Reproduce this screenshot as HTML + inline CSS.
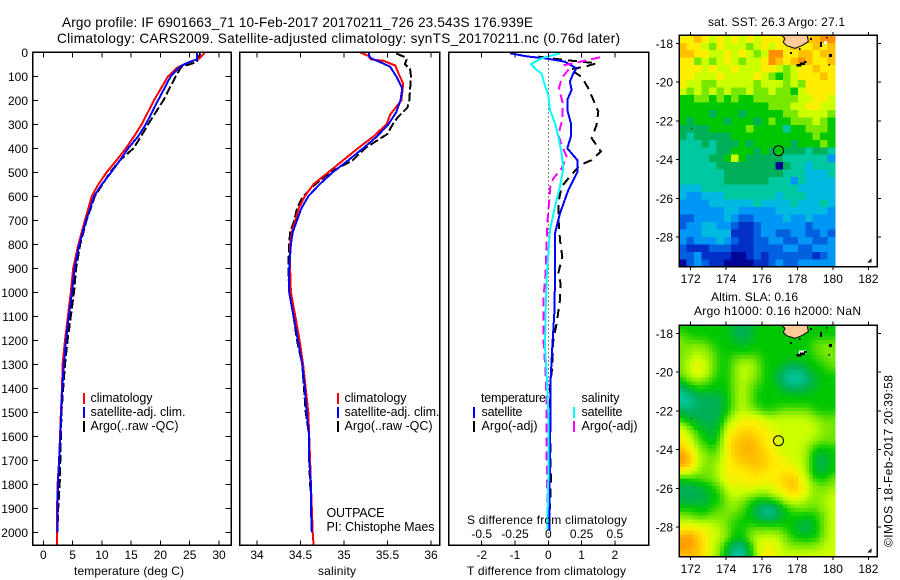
<!DOCTYPE html>
<html lang="en">
<head>
<meta charset="utf-8">
<title>Argo profile</title>
<style>
html,body{margin:0;padding:0;background:#fff;}
svg{display:block;}
text{font-family:"Liberation Sans",sans-serif;font-size:12px;fill:#000;}
.t{font-size:13.6px;}
.lg{font-size:12.5px;}
</style>
</head>
<body>
<svg id="chart" xmlns="http://www.w3.org/2000/svg" width="900" height="580" viewBox="0 0 900 580">
<rect x="0" y="0" width="900" height="580" fill="#fff"/>
<text class="t" x="62" y="27" textLength="471">Argo profile: IF 6901663_71 10-Feb-2017 20170211_726 23.543S 176.939E</text>
<text class="t" x="57" y="43" textLength="563">Climatology: CARS2009. Satellite-adjusted climatology: synTS_20170211.nc (0.76d later)</text>
<g id="plots"></g>
<g id="maps"></g>

<text x="74" y="575" textLength="110">temperature (deg C)</text>
<text x="318" y="575" textLength="38">salinity</text>
<text x="467" y="575" textLength="159">T difference from climatology</text>
<text x="467" y="524" textLength="160">S difference from climatology</text>

<g>
<rect x="83" y="393" width="2" height="11" fill="#f00"/>
<rect x="83" y="407" width="2" height="11" fill="#00f"/>
<rect x="83" y="421" width="2" height="11" fill="#000"/>
<text class="lg" x="90.5" y="402" textLength="62">climatology</text>
<text class="lg" x="90.5" y="416" textLength="95">satellite-adj. clim.</text>
<text class="lg" x="90.5" y="430" textLength="88">Argo(..raw -QC)</text>
</g>
<g>
<rect x="337" y="393" width="2" height="11" fill="#f00"/>
<rect x="337" y="407" width="2" height="11" fill="#00f"/>
<rect x="337" y="421" width="2" height="11" fill="#000"/>
<text class="lg" x="344.5" y="402" textLength="62">climatology</text>
<text class="lg" x="344.5" y="416" textLength="95">satellite-adj. clim.</text>
<text class="lg" x="344.5" y="430" textLength="88">Argo(..raw -QC)</text>
</g>
<text class="lg" x="326.5" y="517" textLength="58">OUTPACE</text>
<text class="lg" x="326.5" y="531" textLength="108">PI: Chistophe Maes</text>
<g>
<text class="lg" x="481" y="402" textLength="65">temperature</text>
<rect x="473" y="407" width="2" height="11" fill="#00f"/>
<rect x="473" y="421" width="2" height="11" fill="#000"/>
<text class="lg" x="481.5" y="416" textLength="41">satellite</text>
<text class="lg" x="481.5" y="430" textLength="56">Argo(-adj)</text>
<text class="lg" x="581.5" y="402" textLength="38">salinity</text>
<rect x="573" y="407" width="2" height="11" fill="#00ffff"/>
<rect x="573" y="421" width="2" height="11" fill="#ff00ff"/>
<text class="lg" x="581.5" y="416" textLength="41">satellite</text>
<text class="lg" x="581.5" y="430" textLength="56">Argo(-adj)</text>
</g>
<text x="708" y="26" textLength="137">sat. SST: 26.3 Argo: 27.1</text>
<text x="711" y="301" textLength="87">Altim. SLA: 0.16</text>
<text x="694" y="315" textLength="167">Argo h1000: 0.16 h2000: NaN</text>
<text transform="translate(892.5,547) rotate(-90)" x="0" y="0" textLength="172">©IMOS 18-Feb-2017 20:39:58</text>

<script>
// ---- Temperature profile data (deg C vs dbar)
var climTempPressure = [0,25,45,66,100,200,300,350,400,450,500,550,600,650,700,800,900,1000,1100,1200,1300,1400,1500,1600,1700,1800,1900,2000,2050];
var climTempValues = [27.6,26.7,24.5,22.8,21.3,18.9,16.8,15.5,14.1,12.5,10.8,9.4,8.26,7.7,7.1,6.0,5.1,4.7,4.2,3.7,3.3,3.2,3.0,2.85,2.7,2.45,2.35,2.35,2.3];
var satTempPressure = [0,30,40,60,100,200,300,350,400,450,500,550,600,650,700,800,900,1000,1100,1200,1300,1400,1500,1600,1700,1800,1900,2000];
var satTempValues = [26.2,26.2,25,23.3,21.75,19.6,17.5,16.2,14.5,13.1,11.6,10,8.65,8,7.3,6.15,5.35,4.9,4.35,3.9,3.5,3.25,3.05,2.9,2.7,2.5,2.4,2.4];
var argoTempPressure = [4,40,50,60,100,200,300,350,400,450,500,550,600,650,700,800,900,1000,1100,1200,1300,1400,1500,1600,1700,1800,1900,2000];
var argoTempValues = [26.8,26.2,25,23.6,22.6,20.5,17.9,16.7,15.4,13.1,11.4,10.1,8.8,8.1,7.4,6.3,5.6,5.25,4.7,4.15,3.7,3.4,3.1,3.0,2.9,2.8,2.55,2.4];

// ---- Salinity profile data
var climSalPressure = [0,15,30,35,55,100,130,200,260,300,350,400,450,500,550,600,650,700,750,800,900,1000,1100,1200,1300,1400,1500,1600,1700,1800,1900,2000,2050];
var climSalValues = [35.18,35.28,35.31,35.45,35.59,35.64,35.68,35.66,35.53,35.49,35.34,35.16,34.99,34.82,34.65,34.55,34.48,34.44,34.4,34.38,34.38,34.39,34.44,34.49,34.53,34.56,34.59,34.6,34.61,34.62,34.63,34.64,34.65];
var satSalPressure = [0,15,25,40,60,100,150,200,250,300,350,400,450,500,550,600,650,700,750,800,900,1000,1100,1200,1300,1400,1500,1600,1700,1800,1900,2000];
var satSalValues = [35.29,35.29,35.31,35.41,35.53,35.6,35.67,35.65,35.6,35.51,35.38,35.22,35.05,34.87,34.72,34.59,34.51,34.46,34.41,34.39,34.37,34.37,34.42,34.47,34.52,34.55,34.57,34.6,34.6,34.62,34.62,34.63];
var argoSalPressure = [5,20,30,50,70,100,200,230,270,300,340,400,450,500,550,600,650,700,750,800,900,1000,1100,1200,1300,1400,1500,1600,1700,1800,1900,2000];
var argoSalValues = [35.6,35.7,35.72,35.7,35.76,35.77,35.75,35.73,35.62,35.56,35.5,35.24,35.1,34.84,34.67,34.53,34.46,34.43,34.38,34.37,34.36,34.37,34.42,34.46,34.52,34.54,34.56,34.6,34.6,34.61,34.63,34.64];

// ---- Difference data
var satDiffTPressure = [4,18,25,39,67,88,122,157,198,240,296,351,400,449,497,574,671,754,949,1088,1227,1365,1504,1643,1990];
var satDiffTValues = [-1.15,-0.6,-0.1,0.5,0.85,0.75,0.65,0.7,0.57,0.57,0.68,0.68,0.57,0.87,0.88,0.6,0.35,0.2,0.2,0.18,0.12,0.07,0.07,0.05,0.03];
var argoDiffTPressure = [18,32,46,60,71,102,150,198,247,302,358,413,449,470,526,560,630,685,782,852,921,963,1032,1130,1200,1310,1393,1504,1574,1782,1977];
var argoDiffTValues = [-0.3,0.5,1.45,1.1,0.65,1,1.2,1.35,1.5,1.45,1.3,1.58,1.3,0.95,0.6,0.4,0.3,0.3,0.35,0.42,0.3,0.37,0.35,0.25,0.15,0.12,0.05,0.05,0.05,0.08,0.02];
var satDiffSPressure = [4,25,49,74,88,130,178,240,296,351,421,484,560,643,740,838,942,1088,1227,1338,1504,1782,1990];
var satDiffSValues = [0.0875,-0.05,-0.13,-0.0875,-0.05,-0.03,0,0.0125,0.05,0.075,0.1,0.1125,0.0875,0.05,0.0125,0,-0.0125,-0.02,-0.025,-0.0125,0,0,-0.0075];
var argoDiffSPressure = [21,43,53,70,108,150,205,281,344,385,435,484,526,560,630,699,782,921,1032,1185,1365,1504,1657,1921];
var argoDiffSValues = [0.3875,0.2125,0.125,0.155,0.1,0.08,0.105,0.105,0.075,0.1,0.1375,0.1,0.0375,0.015,0.005,-0.005,-0.0125,-0.02,-0.0375,-0.0375,-0.0175,-0.0125,-0.0125,-0.005];

// ---- Tick labels
var pressureTicks = [0,100,200,300,400,500,600,700,800,900,1000,1100,1200,1300,1400,1500,1600,1700,1800,1900,2000];
var tempTicks = [0,5,10,15,20,25,30];
var salTicks = [34,34.5,35,35.5,36];
var diffTTicks = [-2,-1,0,1,2];
var diffSTicks = [-0.5,-0.25,0,0.25,0.5];
var lonTicks = [172,174,176,178,180,182];
var latTicks = [18,20,22,24,26,28];
var argoLon = 176.939;
var argoLat = 23.543;

// ---- Map grids: colour level per cell, rows north to south, columns west to east
var sstGrid = [
[10,10,11,10,9,10,9,10,9,10,9,10,10,10,11,11,11,11,11,12,12],
[11,10,10,9,8,10,9,9,9,8,9,10,9,10,10,11,10,10,11,10,11],
[11,11,10,10,9,9,10,9,10,9,8,9,12,12,10,10,11,11,10,11,11],
[10,10,8,9,8,9,10,9,8,9,9,10,12,11,10,11,12,11,10,10,11],
[10,10,10,9,10,9,9,10,9,9,9,10,10,9,8,9,10,10,11,10,10],
[10,10,9,9,9,10,9,9,9,9,10,9,8,7,8,9,10,10,10,11,10],
[10,9,9,8,8,9,9,9,9,9,8,9,9,9,8,9,8,10,10,10,10],
[9,8,9,8,9,8,9,8,8,9,8,8,9,8,8,7,9,10,10,10,10],
[7,7,8,8,7,8,7,8,7,7,8,8,8,8,8,8,9,9,10,10,9],
[7,7,7,7,7,7,7,7,7,7,7,7,8,8,8,9,9,10,10,9,9],
[7,7,7,7,6,7,7,7,6,7,7,7,7,7,8,8,9,9,9,9,8],
[7,6,7,7,7,7,6,7,7,7,6,7,8,7,7,8,8,8,9,8,7],
[6,6,6,6,7,7,7,7,7,8,7,7,7,7,5,7,7,8,8,8,7],
[6,5,6,6,6,6,6,7,7,7,7,7,7,7,7,7,7,7,8,7,7],
[5,5,5,6,5,6,6,6,7,6,7,7,7,7,7,6,7,7,7,8,7],
[5,5,5,5,5,6,6,7,7,7,6,7,6,7,6,6,6,5,6,6,5],
[5,5,5,5,6,6,7,9,7,6,6,6,6,6,5,5,5,5,5,5,3],
[5,5,5,5,5,6,6,6,6,6,6,6,6,0,6,5,5,4,5,5,5],
[5,5,5,5,5,5,6,6,6,6,6,6,6,6,5,5,5,4,4,4,5],
[5,5,5,5,5,5,6,6,6,6,6,6,5,5,5,3,5,4,4,4,4],
[4,4,4,5,5,5,5,5,5,5,5,5,5,5,5,5,4,4,4,4,4],
[4,3,3,4,4,4,5,5,5,5,5,5,5,4,5,5,5,4,4,4,4],
[3,3,3,3,4,4,4,4,4,4,5,4,4,4,4,5,4,4,4,5,4],
[3,3,3,3,3,3,4,4,3,3,3,3,3,4,4,4,4,4,4,4,3],
[2,2,3,3,3,3,4,3,2,2,3,3,3,3,4,3,3,4,3,3,3],
[2,3,3,4,4,3,3,2,1,1,2,3,3,3,3,3,3,2,3,3,3],
[3,3,3,4,4,4,4,1,1,1,2,3,3,2,2,3,3,2,2,3,2],
[3,2,3,3,3,4,3,2,1,1,2,2,3,3,2,2,3,3,2,2,3],
[2,1,1,1,2,2,2,1,1,1,2,2,2,2,3,3,2,2,3,3,3],
[2,2,3,1,1,1,1,0,0,1,2,1,2,2,2,2,2,2,1,2,3],
[0,2,3,2,1,1,0,0,0,0,1,1,2,3,2,2,3,3,3,3,3]
];
var slaGrid = [
[7,7,7,7,7,7,7,6,6,6,7,7,7,7,7,7,7,7,7,7,7],
[8,7,7,7,7,7,7,6,6,6,7,7,7,7,7,7,7,7,7,7,7],
[8,8,8,8,7,7,7,7,6,7,7,7,7,7,7,7,7,7,8,8,8],
[8,8,9,8,8,7,7,7,7,7,7,7,7,7,7,7,7,7,8,8,8],
[8,9,9,9,8,7,7,8,8,8,8,7,7,7,7,7,7,7,7,8,8],
[8,9,10,9,8,7,7,8,9,9,8,7,7,7,6,6,6,7,7,7,8],
[8,9,10,9,8,7,7,8,9,9,8,7,7,6,5,5,5,6,7,7,7],
[7,8,8,8,7,7,7,8,9,8,8,7,7,6,5,5,5,6,6,7,7],
[5,7,7,7,7,7,7,8,9,8,7,7,7,7,6,6,6,6,7,7,7],
[5,5,6,6,6,6,7,8,9,8,7,7,7,7,7,7,7,7,7,7,7],
[5,5,6,6,6,6,7,8,9,8,7,7,7,7,7,7,7,7,7,7,7],
[6,6,6,6,6,6,7,8,9,8,8,7,7,8,8,8,8,8,7,7,7],
[7,6,6,6,6,6,8,9,10,10,10,9,9,9,9,9,9,9,8,8,8],
[9,7,7,6,6,7,9,10,10,10,10,10,9,9,9,9,9,9,9,8,8],
[10,9,7,7,6,7,10,10,11,11,10,10,10,9,9,9,9,9,9,8,8],
[10,9,8,7,6,8,10,11,11,11,11,10,10,9,9,9,9,9,8,8,8],
[11,10,8,8,7,8,10,11,11,12,11,10,10,9,9,9,9,8,7,7,7],
[12,11,9,8,8,8,10,11,11,11,11,11,10,10,9,9,9,8,6,6,7],
[12,11,9,8,8,9,10,10,11,11,11,11,10,10,10,9,9,8,6,6,7],
[10,10,8,8,8,9,10,10,10,10,11,10,10,10,10,10,9,8,6,6,7],
[7,7,8,8,8,9,10,10,10,10,10,10,10,10,11,11,10,8,7,7,8],
[6,6,6,7,7,8,9,10,9,10,10,9,10,10,11,11,10,9,8,8,8],
[6,6,6,6,7,7,9,9,9,9,8,8,9,9,10,11,10,9,8,8,9],
[6,6,6,6,7,7,8,9,8,7,7,7,7,8,9,9,9,8,8,9,9],
[7,7,7,7,7,8,8,8,8,7,6,5,5,6,7,8,8,8,8,8,9],
[8,8,7,7,8,8,8,8,7,7,6,5,5,6,7,7,7,7,7,8,9],
[9,9,9,9,9,8,8,7,7,7,7,7,7,7,7,7,6,6,7,8,9],
[10,11,10,10,9,9,8,7,7,8,8,8,8,8,7,7,6,6,7,8,9],
[12,12,11,10,9,9,8,7,7,8,9,9,9,9,8,7,7,7,7,8,9],
[12,12,11,10,9,8,7,5,5,7,9,10,10,9,8,8,8,8,8,9,9],
[11,11,11,10,9,8,6,5,5,6,9,10,10,9,9,9,9,9,9,9,9]
];

// ---- Colour ramp
var ramp = [[0,6,150],[0,48,200],[0,96,224],[0,150,245],[0,185,225],[0,200,160],[0,176,88],[0,200,0],[120,232,0],[204,255,0],[255,238,0],[255,192,0],[255,144,0]];

var NS = 'http://www.w3.org/2000/svg';
var plots = document.getElementById('plots');
var maps = document.getElementById('maps');

function mk(tag, parent, attrs) {
  var el = document.createElementNS(NS, tag);
  for (var k in attrs) { el.setAttribute(k, attrs[k]); }
  parent.appendChild(el);
  return el;
}

// ---- Axis functions
var PLOT_TOP = 52.3, PLOT_BOTTOM = 545.3;
function yPressure(p) { return 52.3 + p * 0.24; }
function xTemp(t) { return 43.3 + t * 5.857; }
function xSal(s) { return 257 + (s - 34) * 87; }
function xDiffT(d) { return 548.3 + d * 33.3; }
function xDiffS(d) { return 548.3 + d * 133.2; }
function xLon(lon) { return 690.7 + (lon - 172) * 17.77; }
function yLat1(lat) { return 43.3 + (lat - 18) * 19.37; }
function yLat2(lat) { return 333.3 + (lat - 18) * 19.37; }

function profile(xs, ps, vals, xf, color, width, dash, name) {
  var pts = [];
  for (var i = 0; i < ps.length; i++) {
    pts.push(xf(vals[i]).toFixed(1) + ',' + yPressure(ps[i]).toFixed(1));
  }
  var pl = mk('polyline', xs, {points: pts.join(' '), fill: 'none', stroke: color, 'stroke-width': width, 'shape-rendering': 'crispEdges'});
  if (dash) { pl.setAttribute('stroke-dasharray', dash); }
  
  
}

function box(parent, x0, x1, y0, y1, name) {
  var r = mk('rect', parent, {x: x0, y: y0, width: x1 - x0, height: y1 - y0, fill: 'none', stroke: '#000', 'stroke-width': 1.5, 'shape-rendering': 'crispEdges'});
  
  
}

function tick(parent, x1, y1, x2, y2) {
  var l = mk('line', parent, {x1: x1, y1: y1, x2: x2, y2: y2, stroke: '#000', 'stroke-width': 1, 'shape-rendering': 'crispEdges'});
  
  
}

function label(parent, x, y, str, anchor) {
  var t = mk('text', parent, {x: x, y: y, 'text-anchor': anchor});
  t.textContent = str;
  
  
}

function group(parent, name) {
  var g = mk('g', parent, {});
  
  
  return g;
}

// ---- Temperature panel
var tempPanel = group(plots, 'temperature-panel');
profile(tempPanel, argoTempPressure, argoTempValues, xTemp, '#000', 2, '9 3', 'argo-temperature-line');
profile(tempPanel, climTempPressure, climTempValues, xTemp, '#f00', 2, null, 'climatology-temperature-line');
profile(tempPanel, satTempPressure, satTempValues, xTemp, '#00f', 2, null, 'satellite-temperature-line');
box(tempPanel, 32.5, 231, PLOT_TOP, PLOT_BOTTOM, 'temperature-panel-frame');
pressureTicks.forEach(function (p) {
  tick(tempPanel, 32.5, yPressure(p), 38, yPressure(p));
  tick(tempPanel, 225.5, yPressure(p), 231, yPressure(p));
  label(tempPanel, 28, yPressure(p) + 4.5, String(p), 'end');
});
tempTicks.forEach(function (t) {
  tick(tempPanel, xTemp(t), PLOT_TOP, xTemp(t), PLOT_TOP + 5);
  tick(tempPanel, xTemp(t), PLOT_BOTTOM, xTemp(t), PLOT_BOTTOM - 5);
  label(tempPanel, xTemp(t), 559, String(t), 'middle');
});

// ---- Salinity panel
var salPanel = group(plots, 'salinity-panel');
profile(salPanel, argoSalPressure, argoSalValues, xSal, '#000', 2, '9 3', 'argo-salinity-line');
profile(salPanel, climSalPressure, climSalValues, xSal, '#f00', 2, null, 'climatology-salinity-line');
profile(salPanel, satSalPressure, satSalValues, xSal, '#00f', 2, null, 'satellite-salinity-line');
box(salPanel, 239.5, 439.5, PLOT_TOP, PLOT_BOTTOM, 'salinity-panel-frame');
salTicks.forEach(function (s) {
  tick(salPanel, xSal(s), PLOT_TOP, xSal(s), PLOT_TOP + 5);
  tick(salPanel, xSal(s), PLOT_BOTTOM, xSal(s), PLOT_BOTTOM - 5);
  label(salPanel, xSal(s), 559, String(s), 'middle');
});

// ---- Difference panel
var diffPanel = group(plots, 'difference-panel');
var zero = mk('line', diffPanel, {x1: xDiffT(0), y1: PLOT_TOP, x2: xDiffT(0), y2: PLOT_BOTTOM, stroke: '#000', 'stroke-width': 1, 'stroke-dasharray': '1 3', 'shape-rendering': 'crispEdges'});


profile(diffPanel, argoDiffTPressure, argoDiffTValues, xDiffT, '#000', 2, '9 6', 'argo-t-difference-line');
profile(diffPanel, satDiffTPressure, satDiffTValues, xDiffT, '#00f', 2, null, 'satellite-t-difference-line');
profile(diffPanel, argoDiffSPressure, argoDiffSValues, xDiffS, '#ff00ff', 2, '9 5', 'argo-s-difference-line');
profile(diffPanel, satDiffSPressure, satDiffSValues, xDiffS, '#00ffff', 2, null, 'satellite-s-difference-line');
box(diffPanel, 448.5, 648.5, PLOT_TOP, PLOT_BOTTOM, 'difference-panel-frame');
diffTTicks.forEach(function (d) {
  tick(diffPanel, xDiffT(d), PLOT_TOP, xDiffT(d), PLOT_TOP + 5);
  tick(diffPanel, xDiffT(d), PLOT_BOTTOM, xDiffT(d), PLOT_BOTTOM - 5);
  label(diffPanel, xDiffT(d), 559, String(d), 'middle');
});
diffSTicks.forEach(function (d) {
  label(diffPanel, xDiffS(d), 538, String(d), 'middle');
});

// ---- Maps
function rampColor(v) {
  var lv = Math.max(0, Math.min(ramp.length - 1, v));
  var i = Math.floor(lv), f = lv - i;
  var a = ramp[i], b = ramp[Math.min(i + 1, ramp.length - 1)];
  return 'rgb(' + Math.round(a[0] + (b[0] - a[0]) * f) + ',' + Math.round(a[1] + (b[1] - a[1]) * f) + ',' + Math.round(a[2] + (b[2] - a[2]) * f) + ')';
}

var LON0 = 171.36, DLON = 0.417, LAT0 = 17.587, DLAT = 0.3854;

function sampleGrid(grid, r, c) {
  var r0 = Math.max(0, Math.min(grid.length - 1, Math.floor(r)));
  var r1 = Math.min(grid.length - 1, r0 + 1);
  var c0 = Math.max(0, Math.min(grid[0].length - 1, Math.floor(c)));
  var c1 = Math.min(grid[0].length - 1, c0 + 1);
  var fr = Math.max(0, Math.min(1, r - r0)), fc = Math.max(0, Math.min(1, c - c0));
  return (grid[r0][c0] * (1 - fc) + grid[r0][c1] * fc) * (1 - fr) + (grid[r1][c0] * (1 - fc) + grid[r1][c1] * fc) * fr;
}

function smoothSample(grid, r, c) {
  return (2 * sampleGrid(grid, r, c) + sampleGrid(grid, r - 1, c) + sampleGrid(grid, r + 1, c) + sampleGrid(grid, r, c - 1) + sampleGrid(grid, r, c + 1)) / 6;
}

function drawBlockHeat(parent, grid, yLat) {
  grid.forEach(function (row, r) {
    row.forEach(function (v, c) {
      var x0 = xLon(LON0 + c * DLON), x1 = xLon(LON0 + (c + 1) * DLON);
      var y0 = yLat(LAT0 + r * DLAT), y1 = yLat(LAT0 + (r + 1) * DLAT);
      var cell = mk('rect', parent, {x: x0.toFixed(2), y: y0.toFixed(2), width: (x1 - x0 + 0.4).toFixed(2), height: (y1 - y0 + 0.4).toFixed(2), fill: rampColor(v), 'shape-rendering': 'crispEdges'});
      
      
    });
  });
}

function drawSmoothHeat(parent, grid, yLat) {
  var SUB = 2;
  for (var r = 0; r < grid.length * SUB; r++) {
    for (var c = 0; c < grid[0].length * SUB; c++) {
      var v = smoothSample(grid, (r + 0.5) / SUB - 0.5, (c + 0.5) / SUB - 0.5);
      var x0 = xLon(LON0 + c / SUB * DLON), x1 = xLon(LON0 + (c + 1) / SUB * DLON);
      var y0 = yLat(LAT0 + r / SUB * DLAT), y1 = yLat(LAT0 + (r + 1) / SUB * DLAT);
      var cell = mk('rect', parent, {x: x0.toFixed(2), y: y0.toFixed(2), width: (x1 - x0 + 0.4).toFixed(2), height: (y1 - y0 + 0.4).toFixed(2), fill: rampColor(v), 'shape-rendering': 'crispEdges'});
      
      
    }
  }
}

function drawLand(parent, dy, isSst) {
  var g = group(parent, 'land-and-islands');
  g.setAttribute('transform', 'translate(0,' + dy + ')');
  var fiji = mk('polygon', g, {points: '781.7,35.5 807.3,35.5 808.3,41.7 801.7,45.7 795,48.3 786.7,45.7 783.3,42.3 785,38.3', fill: '#ffcc99', stroke: '#000', 'stroke-width': 1});
  
  
  if (!isSst) {
    var surf = mk('rect', g, {x: 799, y: 60.5, width: 7, height: 3.5, fill: '#fff'});
    
    
  }
  var blobs = [[796.5,64,5,2.5],[800,62.5,5,2.5],[804,61,2.5,2],[820,42,2,5],[829,54,3,3],[790,52,2,2],[799,48,1.5,2],[810,38,2,2],[826,37,1.5,1.5],[828.5,64,1.5,1.5]];
  blobs.forEach(function (b) {
    var isl = mk('rect', g, {x: b[0], y: b[1], width: b[2], height: b[3], fill: '#000'});
    
    
  });
  if (isSst) {
    var w = mk('rect', g, {x: 824, y: 41, width: 3, height: 3, fill: '#fff'});
    
    
  }
  var dot = mk('rect', g, {x: 691, y: 128, width: 1, height: 1, fill: '#000'});
  
  
  var tri = mk('polygon', g, {points: '868.5,262 871,259.5 871,262', fill: '#fff', stroke: '#000', 'stroke-width': 1});
  
  
}

function drawMapFrame(parent, yLat, top, bottom, lonBaseline, name) {
  var x0 = 679.3, x1 = 877.3;
  var cx = xLon(argoLon), cy = yLat(argoLat);
  var ring = mk('circle', parent, {cx: cx.toFixed(1), cy: cy.toFixed(1), r: 5, fill: 'none', stroke: '#000', 'stroke-width': 1});
  
  
  box(parent, x0, x1, top, bottom, name);
  lonTicks.forEach(function (lon) {
    tick(parent, xLon(lon), top - 3.5, xLon(lon), top);
    tick(parent, xLon(lon), bottom, xLon(lon), bottom + 3.5);
    label(parent, xLon(lon), lonBaseline, String(lon), 'middle');
  });
  latTicks.forEach(function (lat) {
    tick(parent, x0 - 3.5, yLat(lat), x0, yLat(lat));
    tick(parent, x1, yLat(lat), x1 + 3.5, yLat(lat));
    label(parent, 673, yLat(lat) + 4.5, '-' + lat, 'end');
  });
}

var sstMap = group(maps, 'sst-map');
drawBlockHeat(sstMap, sstGrid, yLat1);
drawLand(sstMap, 0, true);
drawMapFrame(sstMap, yLat1, 35.3, 266.7, 283, 'sst-map-frame');

var slaMap = group(maps, 'sla-map');
drawSmoothHeat(slaMap, slaGrid, yLat2);
drawLand(slaMap, 290, false);
drawMapFrame(slaMap, yLat2, 325, 556.7, 573, 'sla-map-frame');
</script>
</svg>
</body>
</html>
